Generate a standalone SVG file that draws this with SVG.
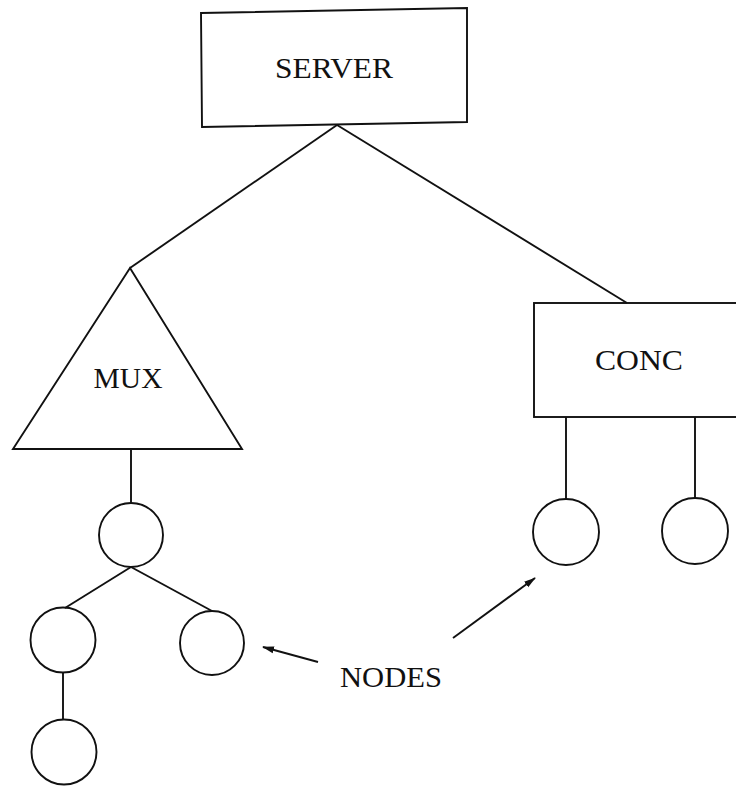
<svg xmlns="http://www.w3.org/2000/svg" width="736" height="786" viewBox="0 0 736 786">
  <defs>
    <style>
      .shape { fill: none; stroke: #111; stroke-width: 1.9; }
      .link { fill: none; stroke: #111; stroke-width: 1.9; }
      .label { font-family: "Liberation Serif", "Times New Roman", serif; font-size: 28.5px; fill: #111; text-anchor: middle; }
    </style>
    <marker id="arrow" viewBox="0 0 12 10" refX="11" refY="5" markerWidth="12" markerHeight="10" markerUnits="userSpaceOnUse" orient="auto">
      <path d="M0,1.5 L12,5 L0,8.5 Z" fill="#111"/>
    </marker>
  </defs>
  <rect width="736" height="786" fill="#fff"/>

  <!-- tree connectors -->
  <g id="connectors">
    <line class="link" x1="337" y1="125" x2="130" y2="268"/>
    <line class="link" x1="337" y1="125" x2="627" y2="303"/>
    <line class="link" x1="131" y1="449" x2="131" y2="503"/>
    <line class="link" x1="131" y1="567" x2="65" y2="608"/>
    <line class="link" x1="131" y1="567" x2="212" y2="611"/>
    <line class="link" x1="63" y1="672" x2="63" y2="720"/>
    <line class="link" x1="566" y1="417" x2="566" y2="499"/>
    <line class="link" x1="695" y1="417" x2="695" y2="498"/>
    <!-- label pointers -->
    <line class="link" x1="318" y1="662" x2="263" y2="647" marker-end="url(#arrow)"/>
    <line class="link" x1="453" y1="638" x2="535" y2="578" marker-end="url(#arrow)"/>
  </g>

  <g id="server">
    <polygon class="shape" points="201,13 467,8 467,122 202,127"/>
    <text class="label" x="334" y="78" textLength="118" lengthAdjust="spacingAndGlyphs">SERVER</text>
  </g>

  <g id="mux">
    <polygon class="shape" points="130,268 242,449 13,449"/>
    <text class="label" x="128" y="388" textLength="69" lengthAdjust="spacingAndGlyphs">MUX</text>
  </g>

  <g id="conc">
    <rect class="shape" x="534" y="303" width="210" height="114"/>
    <text class="label" x="639" y="370" textLength="88" lengthAdjust="spacingAndGlyphs">CONC</text>
  </g>

  <g id="node-mux-root">
    <circle class="shape" cx="131" cy="535" r="32"/>
  </g>
  <g id="node-mux-left">
    <circle class="shape" cx="63" cy="640" r="32.5"/>
  </g>
  <g id="node-mux-right">
    <circle class="shape" cx="212" cy="643" r="32"/>
  </g>
  <g id="node-mux-leaf">
    <circle class="shape" cx="64" cy="752" r="32.5"/>
  </g>
  <g id="node-conc-left">
    <circle class="shape" cx="566" cy="532" r="33"/>
  </g>
  <g id="node-conc-right">
    <circle class="shape" cx="695" cy="531" r="33"/>
  </g>

  <g id="nodes-label">
    <text class="label" x="391" y="687" textLength="102" lengthAdjust="spacingAndGlyphs">NODES</text>
  </g>
</svg>
